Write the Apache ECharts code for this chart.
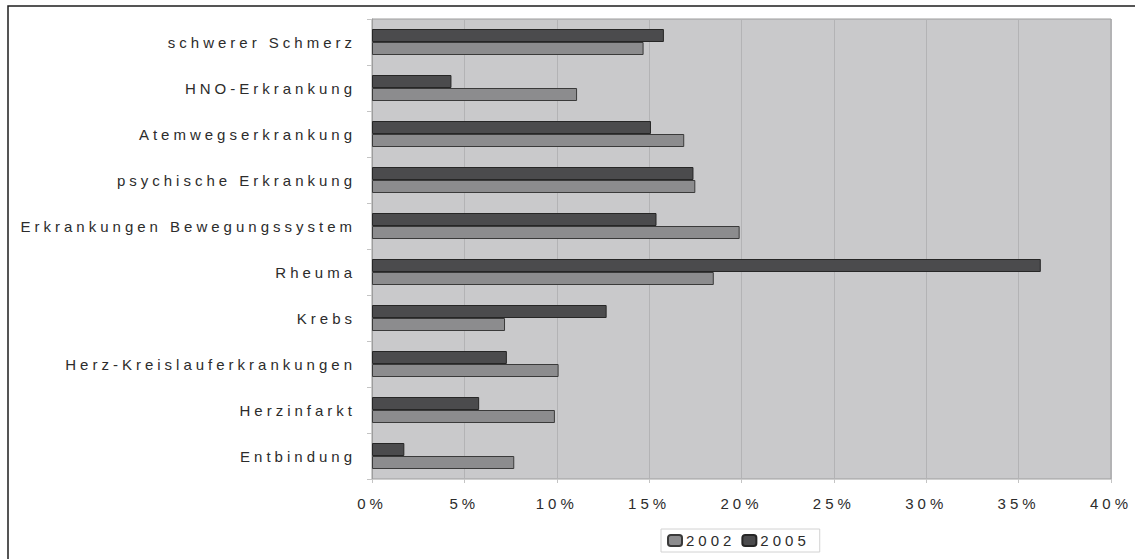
<!DOCTYPE html>
<html>
<head>
<meta charset="utf-8">
<script src="https://cdn.jsdelivr.net/npm/echarts@6/dist/echarts.min.js"></script>
<style>
  html, body { margin: 0; padding: 0; background: #ffffff; }
  #chart { width: 1135px; height: 559px; }
  /* spaced-out lettering used throughout the chart */
  #chart text { letter-spacing: 4px; }
</style>
</head>
<body>
<div id="chart"></div>
<script>
// Categories listed bottom to top, as on the axis
const categories = [
  'Entbindung',
  'Herzinfarkt',
  'Herz-Kreislauferkrankungen',
  'Krebs',
  'Rheuma',
  'Erkrankungen Bewegungssystem',
  'psychische Erkrankung',
  'Atemwegserkrankung',
  'HNO-Erkrankung',
  'schwerer Schmerz'
];

// Share in percent per year
const values2002 = [7.7, 9.9, 10.1, 7.2, 18.5, 19.9, 17.5, 16.9, 11.1, 14.7];
const values2005 = [1.75, 5.8, 7.3, 12.7, 36.2, 15.4, 17.4, 15.1, 4.3, 15.8];

const seriesNames = ['2002', '2005'];

const chart = echarts.init(document.getElementById('chart'), null, { renderer: 'svg' });

const textFont = {
  fontFamily: '"Liberation Sans", Arial, sans-serif',
  fontSize: 15,
  color: '#2c2c2c'
};

chart.setOption({
  animation: false,
  backgroundColor: '#ffffff',
  graphic: [{
    type: 'rect',
    shape: { x: 8, y: 6, width: 1150, height: 580 },
    style: { fill: 'none', stroke: '#1e1e1e', lineWidth: 1.5 },
    silent: true,
    z: -10
  }],
  grid: {
    left: 372,
    right: 24,
    top: 19,
    bottom: 80,
    show: true,
    backgroundColor: '#c9c9cb',
    borderColor: '#9d9d9d',
    borderWidth: 1
  },
  legend: {
    data: seriesNames,
    left: 661,
    top: 529,
    itemWidth: 14,
    itemHeight: 11,
    itemGap: 22,
    padding: [4, 26, 4, 6],
    borderColor: '#d2d2d2',
    borderWidth: 1,
    backgroundColor: '#ffffff',
    textStyle: Object.assign({}, textFont, { padding: [0, 0, 0, -1] })
  },
  xAxis: {
    type: 'value',
    min: 0,
    max: 40,
    interval: 5,
    axisLine: { show: false },
    axisTick: { show: true, length: 4, lineStyle: { color: '#c4c4c4' } },
    splitLine: { show: true, lineStyle: { color: '#b3b3b5', width: 1 } },
    axisLabel: Object.assign({}, textFont, {
      margin: 17,
      formatter: '{value}%'
    })
  },
  yAxis: {
    type: 'category',
    data: categories,
    axisLine: { show: true, lineStyle: { color: '#9d9d9d' } },
    axisTick: { show: true, length: 5, lineStyle: { color: '#c4c4c4' } },
    axisLabel: Object.assign({}, textFont, { margin: 16 })
  },
  // 2005 is listed first so that its bar sits above the 2002 bar in each row
  series: [
    {
      name: seriesNames[1],
      type: 'bar',
      data: values2005,
      barWidth: 13,
      barGap: '0%',
      itemStyle: { color: '#4b4b4d', borderColor: '#262626', borderWidth: 1 }
    },
    {
      name: seriesNames[0],
      type: 'bar',
      data: values2002,
      barWidth: 13,
      barGap: '0%',
      itemStyle: { color: '#8c8c8e', borderColor: '#3a3a3a', borderWidth: 1 }
    }
  ]
});
</script>
</body>
</html>
